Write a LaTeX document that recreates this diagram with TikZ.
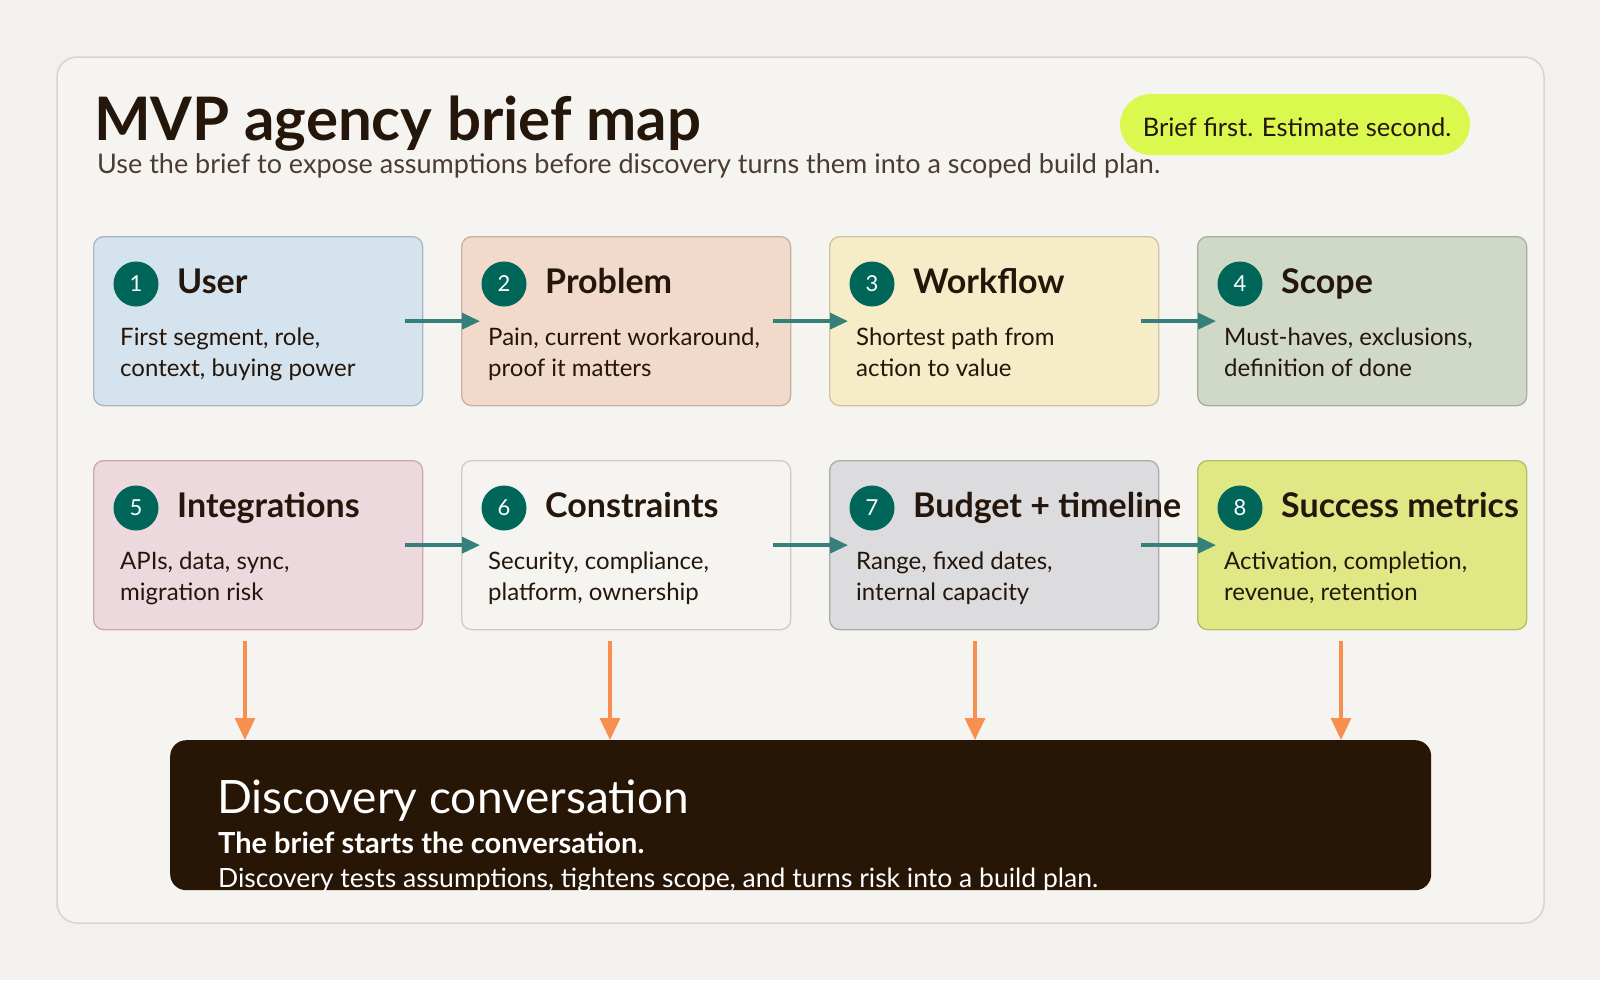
\documentclass[tikz,border=0pt]{standalone}
\usepackage{fontspec}
\setmainfont{Lato}
\usetikzlibrary{arrows.meta,calc}
\definecolor{bgc}{HTML}{F2F1EE}
\definecolor{panelc}{HTML}{F5F4F0}
\definecolor{panelb}{HTML}{D6D4CF}
\definecolor{ink}{HTML}{24160A}
\definecolor{subink}{HTML}{4A3C32}
\definecolor{pill}{HTML}{DBF84F}
\definecolor{badge}{HTML}{00665A}
\definecolor{tealar}{HTML}{35807A}
\definecolor{orar}{HTML}{F7904E}
\definecolor{dark}{HTML}{271505}
\definecolor{f1}{HTML}{D5E3EF}\definecolor{d1}{HTML}{A9B6C2}
\definecolor{f2}{HTML}{F2DACB}\definecolor{d2}{HTML}{C9B1A1}
\definecolor{f3}{HTML}{F6EDC8}\definecolor{d3}{HTML}{CFC4A1}
\definecolor{f4}{HTML}{D0D8C6}\definecolor{d4}{HTML}{A8AE9F}
\definecolor{f5}{HTML}{EDD8DD}\definecolor{d5}{HTML}{C9A9B0}
\definecolor{f6}{HTML}{F6F4F0}\definecolor{d6}{HTML}{CDCCCA}
\definecolor{f7}{HTML}{DCDCDE}\definecolor{d7}{HTML}{ABABAB}
\definecolor{f8}{HTML}{DFE884}\definecolor{d8}{HTML}{B5BD66}
\begin{document}
\begin{tikzpicture}[x=1pt,y=-1pt,
  cardbox/.style={rectangle, rounded corners=10pt, minimum width=329pt, minimum height=169pt, anchor=north west, line width=1.3pt, inner sep=0pt},
  badgec/.style={circle, fill=badge, minimum size=45pt, inner sep=0pt, text=white, font=\fontsize{22}{22}\selectfont},
  headt/.style={anchor=base west, inner sep=0pt, text=ink, font=\fontsize{34}{34}\selectfont\bfseries},
  bodyt/.style={anchor=base west, inner sep=0pt, text=ink, font=\fontsize{24}{24}\selectfont},
  tealarrow/.style={draw=tealar, line width=3.5pt, -{Triangle[length=18pt,width=16pt]}},
  orarrow/.style={draw=orar, line width=3.2pt, -{Triangle[length=22pt,width=20pt]}},
]
\useasboundingbox (0,0) rectangle (1600,980);
\fill[bgc] (0,0) rectangle (1600,980);
\draw[fill=panelc, draw=panelb, line width=1.5pt, rounded corners=20pt] (57,57) rectangle (1544,923);

\node[anchor=base west, inner sep=0pt, text=ink, font=\fontsize{60}{60}\selectfont\bfseries] (title) at (94,140) {MVP agency brief map};
\node[anchor=base west, inner sep=0pt, text=subink, font=\fontsize{27}{27}\selectfont] (subtitle) at (97,173) {Use the brief to expose assumptions before discovery turns them into a scoped build plan.};
\node[fill=pill, rounded corners=31pt, minimum width=350pt, minimum height=61pt, inner sep=0pt] (pill) at (1295,124.5) {};
\node[anchor=base, inner sep=0pt, text=ink, font=\fontsize{25.5}{25.5}\selectfont] (pillt) at ($(pill.center)+(2,12)$) {Brief first. Estimate second.};

% row 1
\node[cardbox, fill=f1, draw=d1] (b1) at (93,236) {};
\node[cardbox, fill=f2, draw=d2] (b2) at (461,236) {};
\node[cardbox, fill=f3, draw=d3] (b3) at (829,236) {};
\node[cardbox, fill=f4, draw=d4] (b4) at (1197,236) {};
% row 2
\node[cardbox, fill=f5, draw=d5] (b5) at (93,460) {};
\node[cardbox, fill=f6, draw=d6] (b6) at (461,460) {};
\node[cardbox, fill=f7, draw=d7] (b7) at (829,460) {};
\node[cardbox, fill=f8, draw=d8] (b8) at (1197,460) {};

\foreach \b/\n/\h/\la/\lb in {
  b1/1/User/{First segment, role,}/{context, buying power},
  b2/2/Problem/{Pain, current workaround,}/{proof it matters},
  b3/3/Workflow/{Shortest path from}/{action to value},
  b4/4/Scope/{Must-haves, exclusions,}/{definition of done},
  b5/5/Integrations/{APIs, data, sync,}/{migration risk},
  b6/6/Constraints/{Security, compliance,}/{platform, ownership},
  b7/7/Budget + timeline/{Range, fixed dates,}/{internal capacity},
  b8/8/Success metrics/{Activation, completion,}/{revenue, retention}}{
  \node[badgec] (\b n) at ($(\b.north west)+(43,48)$) {\raisebox{-2pt}{\n}};
  \node[headt] (\b h) at ($(\b.north west)+(84,57)$) {\h};
  \node[bodyt] (\b l1) at ($(\b.north west)+(27,109)$) {\la};
  \node[bodyt] (\b l2) at ($(\b.north west)+(27,140)$) {\lb};
}

% teal connectors
\foreach \a/\c in {b1/b2, b2/b3, b3/b4, b5/b6, b6/b7, b7/b8}{
  \draw[tealarrow] ([xshift=-18pt]\a.east) -- ([xshift=19pt]\c.west);
}

% dark box
\node[fill=dark, rounded corners=16pt, minimum width=1261pt, minimum height=150pt, anchor=north west, inner sep=0pt] (disc) at (170,740) {};
\begin{scope}
\clip[rounded corners=16pt] (disc.north west) rectangle (disc.south east);
\node[anchor=base west, inner sep=0pt, text=white, font=\fontsize{46}{46}\selectfont] (dt) at (217,813) {Discovery conversation};
\node[anchor=base west, inner sep=0pt, text=white, font=\fontsize{29}{29}\selectfont\bfseries] (dl2) at (218,853) {The brief starts the conversation.};
\node[anchor=base west, inner sep=0pt, text=white, font=\fontsize{26.5}{26.5}\selectfont] (dl3) at (218,887) {Discovery tests assumptions, tightens scope, and turns risk into a build plan.};
\end{scope}

% orange connectors
\foreach \b/\dx in {b5/152, b6/149, b7/146, b8/144}{
  \coordinate (\b s) at ($(\b.south west)+(\dx,11)$);
  \draw[orarrow] (\b s) -- (\b s |- disc.north);
}
\end{tikzpicture}
\end{document}
